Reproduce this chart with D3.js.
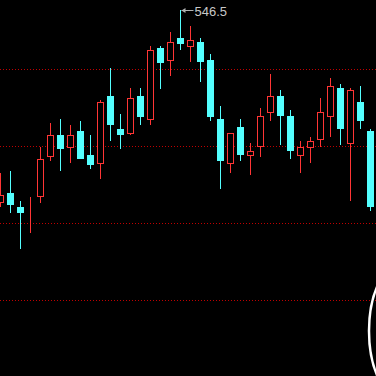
<!DOCTYPE html>
<html>
<head>
<meta charset="utf-8">
<script src="https://d3js.org/d3.v7.min.js"></script>
<style>
  html, body { margin: 0; padding: 0; background: #000; overflow: hidden; }
</style>
</head>
<body>
<div id="chart-area"></div>
<script>
// OHLC values
var opens  = [521.6, 522.7, 520.9, 521.4, 522.3, 527.5, 530.3, 528.7, 530.8, 527.7,
              526.6, 535.3, 531.0, 530.5, 535.3, 532.3, 541.6, 540.0, 542.9, 541.8,
              542.3, 540.0, 532.3, 526.6, 531.3, 527.7, 528.8, 533.2, 535.3, 532.7,
              527.7, 528.7, 529.7, 532.7, 536.4, 529.2, 534.6, 530.8];
var highs  = [525.3, 525.6, 521.7, 522.2, 528.7, 531.8, 532.3, 531.6, 532.1, 530.3,
              534.8, 539.0, 533.0, 536.4, 536.4, 541.8, 541.8, 543.6, 546.5, 544.4,
              542.9, 540.8, 534.0, 530.5, 532.3, 529.2, 533.8, 538.2, 536.1, 533.5,
              529.5, 530.0, 535.1, 537.7, 536.9, 536.4, 536.6, 531.0];
var lows   = [520.9, 520.1, 515.5, 517.5, 521.4, 526.9, 525.6, 526.6, 527.1, 525.8,
              524.5, 529.5, 528.4, 530.3, 531.6, 531.6, 536.2, 537.9, 541.3, 539.7,
              537.1, 532.1, 523.2, 525.3, 526.9, 525.1, 527.4, 532.1, 529.0, 527.1,
              525.3, 526.6, 528.7, 530.0, 529.0, 521.7, 531.0, 520.4];
var closes = [522.5, 521.2, 520.1, 521.4, 527.1, 530.3, 528.4, 530.3, 527.1, 526.4,
              534.6, 531.6, 530.3, 535.1, 532.6, 541.3, 539.6, 542.3, 542.1, 542.6,
              539.7, 532.6, 526.9, 530.5, 527.7, 528.2, 532.7, 535.3, 532.7, 528.2,
              528.7, 529.5, 533.2, 536.6, 531.0, 536.1, 532.1, 520.9];
var gridLevels = [538.8, 528.8, 518.8, 508.8];
var maxLabel = "546.5";

var width = 376, height = 376;
var upColor = "#ff3535", downColor = "#54ffff";

var data = opens.map(function(o, i) {
  return { i: i, open: o, high: highs[i], low: lows[i], close: closes[i] };
});

var svg = d3.select("#chart-area")
  .append("svg")
  .attr("width", width)
  .attr("height", height)
  .style("display", "block")
  .style("background", "#000");

var x = d3.scaleLinear()
  .domain([0, data.length - 1])
  .range([0.5, 370.5]);

// 7.7 px per price unit, 546.5 sits at y = 10
var y = d3.scaleLinear()
  .domain([546.5, 546.5 - 366 / 7.7])
  .range([10, 376]);

svg.selectAll("line.grid")
  .data(gridLevels)
  .enter()
  .append("line")
  .attr("class", "grid")
  .attr("x1", 0)
  .attr("x2", width)
  .attr("y1", function(d) { return Math.round(y(d)) + 0.5; })
  .attr("y2", function(d) { return Math.round(y(d)) + 0.5; })
  .attr("stroke", "#c00000")
  .attr("stroke-width", 1)
  .attr("stroke-dasharray", "1,2");

var candles = svg.selectAll("g.candle")
  .data(data)
  .enter()
  .append("g")
  .attr("class", "candle");

function col(d) { return d.close >= d.open ? upColor : downColor; }
function cx(d) { return Math.round(x(d.i) - 0.5) + 0.5; }

candles.append("line")
  .attr("x1", cx)
  .attr("x2", cx)
  .attr("y1", function(d) { return Math.round(y(d.high)); })
  .attr("y2", function(d) { return Math.round(y(d.low)); })
  .attr("stroke", col)
  .attr("stroke-width", 1);

candles.append("rect")
  .attr("x", function(d) { return d.close >= d.open ? cx(d) - 3 : cx(d) - 3.5; })
  .attr("width", function(d) { return d.close >= d.open ? 6 : 7; })
  .attr("y", function(d) {
    var t = Math.round(y(Math.max(d.open, d.close)));
    return d.close >= d.open ? t + 0.5 : t;
  })
  .attr("height", function(d) {
    var t = Math.round(y(Math.max(d.open, d.close)));
    var b = Math.round(y(Math.min(d.open, d.close)));
    return d.close >= d.open ? Math.max(b - t, 0) : Math.max(b - t, 1);
  })
  .attr("fill", function(d) { return d.close >= d.open ? "#000" : downColor; })
  .attr("stroke", function(d) { return d.close >= d.open ? upColor : "none"; })
  .attr("stroke-width", 1);

// max marker
var maxCandle = data[d3.maxIndex(data, function(d) { return d.high; })];
var my = Math.round(y(maxCandle.high)) + 0.5;
var mx = cx(maxCandle);
svg.append("line")
  .attr("x1", mx + 1)
  .attr("x2", mx + 13)
  .attr("y1", my)
  .attr("y2", my)
  .attr("stroke", "#b0b0b0")
  .attr("stroke-width", 1);
svg.append("path")
  .attr("d", "M" + (mx + 1) + "," + my + "l4,-2.5v5z")
  .attr("fill", "#b0b0b0");
svg.append("text")
  .attr("x", mx + 14)
  .attr("y", my + 5)
  .attr("fill", "#c8c8c8")
  .style("font-family", "Liberation Sans, Arial, sans-serif")
  .style("font-size", "13px")
  .text(maxLabel);

svg.append("ellipse")
  .attr("cx", 399)
  .attr("cy", 331)
  .attr("rx", 30)
  .attr("ry", 65)
  .attr("fill", "none")
  .attr("stroke", "#fff")
  .attr("stroke-width", 2.5);
</script>
</body>
</html>
